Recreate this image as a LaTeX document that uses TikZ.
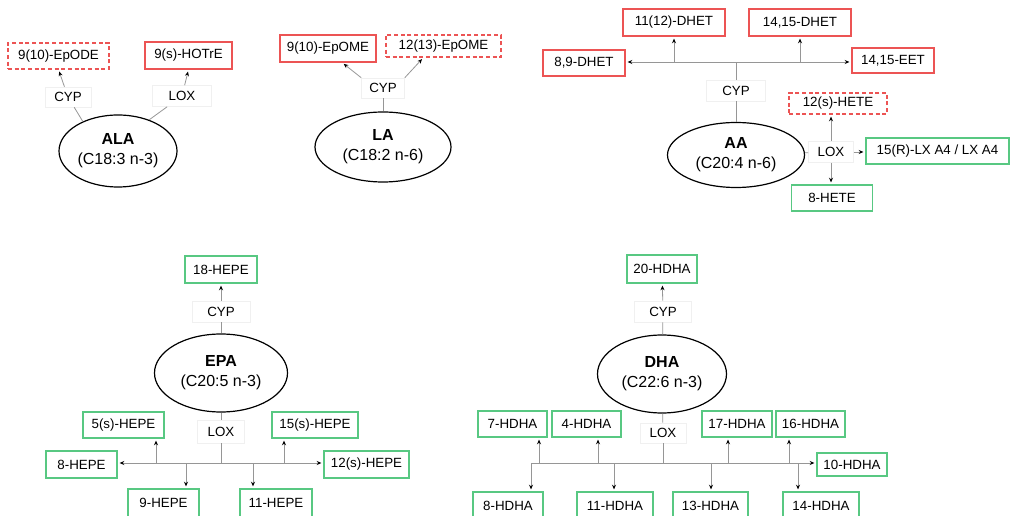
\documentclass[tikz,border=0pt]{standalone}
\usepackage{fontspec}
\setmainfont{Liberation Sans}
\usetikzlibrary{shapes.geometric, arrows.meta}
\definecolor{prodred}{RGB}{236,84,84}
\definecolor{prodgreen}{RGB}{88,200,130}
\definecolor{linkgray}{RGB}{150,150,150}

\tikzset{
  acid/.style={ellipse, draw, line width=0.9pt, align=center, inner sep=0pt, font=\fontsize{12}{15}\selectfont},
  wh/.style 2 args={minimum width=#1*0.75pt, minimum height=#2*0.75pt},
  prod/.style={draw, line width=0.9pt, inner sep=1pt, font=\fontsize{10}{12}\selectfont},
  rprod/.style={prod, draw=prodred},
  rdash/.style={prod, draw=prodred, dash pattern=on 3pt off 2pt},
  gprod/.style={prod, draw=prodgreen},
  enz/.style={draw=black!6, fill=white, inner sep=1pt, font=\fontsize{10}{12}\selectfont},
  link/.style={draw=linkgray, line width=0.6pt},
  flow/.style={link, shorten >=1.5pt, -{Stealth[length=3.5pt, width=3pt, black]}},
}

\begin{document}
\begin{tikzpicture}[x=0.75pt, y=-0.75pt]
            \useasboundingbox (0,0) rectangle (1010,516);

            % ALA
            \node[rdash, wh={101}{26}] (epode) at (58.5,56) {9(10)-EpODE};
            \node[rprod, wh={87}{27}] (hotre) at (188.5,55.5) {9(s)-HOTrE};
            \node[acid, wh={118}{72}] (ala) at (118,151) {\textbf{ALA}\\(C18:3 n-3)};
            \node[enz, wh={46}{20}] (cypala) at (68,97) {CYP};
            \node[enz, wh={59}{21}] (loxala) at (182,96) {LOX};
            \draw[link] (ala.140) -- (cypala);
            \draw[flow] (cypala) -- (epode.south);
            \draw[link] (ala.45) -- (loxala);
            \draw[flow] (loxala) -- (hotre.south);

            % LA
            \node[rprod, wh={96}{27}] (epome9) at (328,48.5) {9(10)-EpOME};
            \node[rdash, wh={115}{22}] (epome12) at (443.5,46) {12(13)-EpOME};
            \node[acid, wh={136}{70}] (la) at (383,147) {\textbf{LA}\\(C18:2 n-6)};
            \node[enz, wh={43}{20}] (cypla) at (383,88) {CYP};
            \draw[link] (la) -- (cypla);
            \draw[flow] (cypla.north west) -- (epome9.-45);
            \draw[flow] (cypla.north east) -- (epome12.210);

            % AA
            \node[rprod, wh={102}{27}] (dhet11) at (674,22.5) {11(12)-DHET};
            \node[rprod, wh={102}{27}] (dhet14) at (800,22.5) {14,15-DHET};
            \node[rprod, wh={82}{26}] (dhet89) at (584,63) {8,9-DHET};
            \node[rprod, wh={82}{25}] (eet14) at (893,60.5) {14,15-EET};
            \node[acid, wh={137}{65}] (aa) at (736,155) {\textbf{AA}\\(C20:4 n-6)};
            \node[enz, wh={59}{21}] (cypaa) at (736,90.5) {CYP};
            \node[enz, wh={45}{21}] (loxaa) at (831,152) {LOX};
            \node[rdash, wh={98}{21}] (hete12) at (838,103.5) {12(s)-HETE};
            \node[gprod, wh={143}{26}] (lxa4) at (937.5,151) {15(R)-LX A4 / LX A4};
            \node[gprod, wh={81}{26}] (hete8) at (832,198) {8-HETE};
            \coordinate (aabus) at (736,62);
            \draw[link] (aa) -- (cypaa);
            \draw[link] (cypaa) -- (aabus);
            \draw[flow] (aabus) -- (aabus -| dhet89.east);
            \draw[flow] (aabus) -- (aabus -| eet14.west);
            \draw[flow] (aabus -| dhet11) -- (dhet11);
            \draw[flow] (aabus -| dhet14) -- (dhet14);
            \draw[link] (aa) -- (loxaa);
            \draw[flow] (loxaa) -- (loxaa |- hete12.south);
            \draw[flow] (loxaa) -- (loxaa |- hete8.north);
            \draw[flow] (loxaa) -- (loxaa -| lxa4.west);

            % EPA
            \node[gprod, wh={72}{27}] (hepe18) at (221,269.5) {18-HEPE};
            \node[enz, wh={58}{21}] (cypepa) at (221,311.5) {CYP};
            \node[acid, wh={133}{78}] (epa) at (221,373) {\textbf{EPA}\\(C20:5 n-3)};
            \node[enz, wh={47}{23}] (loxepa) at (221,431.5) {LOX};
            \node[gprod, wh={71}{27}] (hepe8) at (81.5,464.5) {8-HEPE};
            \node[gprod, wh={85}{27}] (hepe12) at (366.5,464.5) {12(s)-HEPE};
            \node[gprod, wh={81}{26}] (hepe5) at (123.5,425) {5(s)-HEPE};
            \node[gprod, wh={86}{26}] (hepe15) at (315,425) {15(s)-HEPE};
            \node[gprod, wh={71}{28}] (hepe9) at (163.5,503) {9-HEPE};
            \node[gprod, wh={72}{28}] (hepe11) at (276,503) {11-HEPE};
            \coordinate (epabus) at (221,463);
            \draw[link] (epa) -- (cypepa);
            \draw[flow] (cypepa) -- (hepe18);
            \draw[link] (epa) -- (loxepa);
            \draw[link] (loxepa) -- (epabus);
            \draw[flow] (epabus) -- (epabus -| hepe8.east);
            \draw[flow] (epabus) -- (epabus -| hepe12.west);
            \foreach \n/\x/\a in {hepe5/156/south, hepe15/284/south, hepe9/186/north, hepe11/253/north} {
                \coordinate (b\n) at (\x,463);
                \draw[flow] (b\n) -- (b\n |- \n.\a);
            }

            % DHA
            \node[gprod, wh={70}{28}] (hdha20) at (662,269) {20-HDHA};
            \node[enz, wh={57}{21}] (cypdha) at (663,311.5) {CYP};
            \node[acid, wh={129}{78}] (dha) at (662,374) {\textbf{DHA}\\(C22:6 n-3)};
            \node[enz, wh={46}{20}] (loxdha) at (663,433) {LOX};
            \node[gprod, wh={69}{26}] (hdha7) at (512.5,424) {7-HDHA};
            \node[gprod, wh={69}{26}] (hdha4) at (586.5,424) {4-HDHA};
            \node[gprod, wh={70}{26}] (hdha17) at (737,424) {17-HDHA};
            \node[gprod, wh={69}{26}] (hdha16) at (810.5,424) {16-HDHA};
            \node[gprod, wh={70}{23}] (hdha10) at (852,464.5) {10-HDHA};
            \node[gprod, wh={70}{28}] (hdha8) at (508,506) {8-HDHA};
            \node[gprod, wh={76}{28}] (hdha11) at (615,506) {11-HDHA};
            \node[gprod, wh={75}{28}] (hdha13) at (710.5,506) {13-HDHA};
            \node[gprod, wh={76}{28}] (hdha14) at (821,506) {14-HDHA};
            \coordinate (dhabus) at (663,463);
            \draw[link] (dha) -- (cypdha);
            \draw[flow] (cypdha) -- (hdha20);
            \draw[link] (dha) -- (loxdha);
            \draw[link] (loxdha) -- (dhabus);
            \foreach \n/\x/\a in {hdha7/539/south, hdha4/598/south, hdha17/728/south, hdha16/789/south,
                                  hdha8/531/north, hdha11/614/north, hdha13/711/north, hdha14/798/north} {
                \coordinate (b\n) at (\x,463);
                \draw[flow] (b\n) -- (b\n |- \n.\a);
            }
            \draw[link] (dhabus) -- (bhdha8);
            \draw[flow] (dhabus) -- (dhabus -| hdha10.west);
        \end{tikzpicture}
\end{document}
